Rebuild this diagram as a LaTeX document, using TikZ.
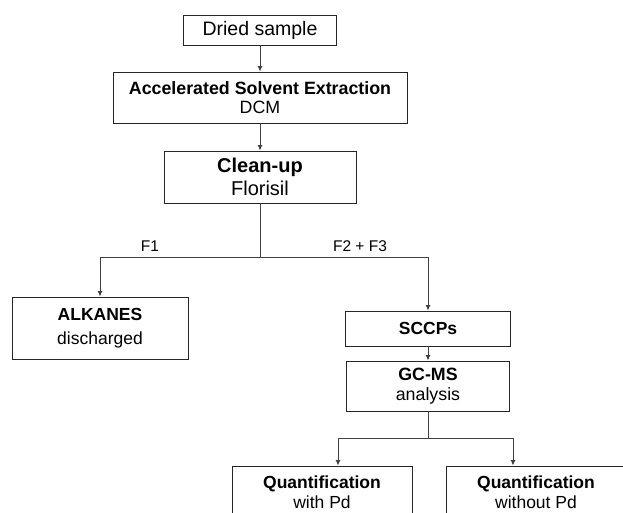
\documentclass[tikz,border=0pt]{standalone}
\usepackage{fontspec}
\setmainfont{Liberation Sans}
\usetikzlibrary{arrows.meta}
\begin{document}
\begin{tikzpicture}[x=1pt,y=-1pt,
  box/.style={draw=black!85, line width=0.9pt, align=center, inner sep=0pt, fill=white},
  conn/.style={draw=black!75, line width=0.9pt},
  arr/.style={conn, -{Latex[length=5.5pt,width=5pt]}},
  lbl/.style={font=\fontsize{15.5}{18}\selectfont, anchor=base, inner sep=0pt}]
\useasboundingbox (0,0) rectangle (623,512);
\clip (0,0) rectangle (623,512);
\fill[white] (0,0) rectangle (623,512);

\node[box, minimum width=153pt, minimum height=30pt, font=\fontsize{19.5}{22}\selectfont] (dried) at (260,30) {Dried sample};
\node[box, minimum width=294pt, minimum height=51pt, font=\fontsize{17.8}{19}\selectfont] (ase) at (260,97.5) {\textbf{Accelerated Solvent Extraction}\\DCM};
\node[box, minimum width=192pt, minimum height=52pt, font=\fontsize{20}{23}\selectfont] (clean) at (260,177) {\textbf{Clean-up}\\Florisil};
\node[box, minimum width=176pt, minimum height=62pt, font=\fontsize{17.5}{24}\selectfont] (alk) at (100,328) {\textbf{ALKANES}\\discharged};
\node[box, minimum width=165pt, minimum height=35pt, font=\fontsize{17.5}{20}\selectfont] (sccp) at (428,328.5) {\textbf{SCCPs}};
\node[box, minimum width=163pt, minimum height=50pt, font=\fontsize{17.8}{20}\selectfont] (gcms) at (428,386) {\textbf{GC-MS}\\analysis};
\node[box, minimum width=180pt, minimum height=52pt, font=\fontsize{17.5}{20.5}\selectfont] (q1) at (322,492) {\textbf{Quantification}\\with Pd};
\node[box, minimum width=180pt, minimum height=52pt, font=\fontsize{17.5}{20.5}\selectfont] (q2) at (536,492) {\textbf{Quantification}\\without Pd};
\draw[draw=black!85, line width=0.9pt] (q1.south west) -- ++(0,10) (q1.south east) -- ++(0,10)
  (q2.south west) -- ++(0,10);

\coordinate (split) at (260,257);
\coordinate (ql) at (338,438);
\coordinate (qr) at (513,438);

\draw[arr] (dried.south) -- (dried.south |- ase.north);
\draw[arr] (ase.south) -- (ase.south |- clean.north);
\draw[conn] (clean.south) -- (split);
\draw[arr] (split) -| (alk.north);
\draw[arr] (split) -| (sccp.north);
\draw[arr] (sccp.south) -- (sccp.south |- gcms.north);
\draw[conn] (gcms.south) -- (gcms.south |- ql);
\draw[conn] (ql) -- (qr);
\draw[arr] (ql) -- (ql |- q1.north);
\draw[arr] (qr) -- (qr |- q2.north);

\node[lbl] (f1) at (150,251) {F1};
\node[lbl] (f23) at (360,251) {F2 + F3};
\end{tikzpicture}
\end{document}
